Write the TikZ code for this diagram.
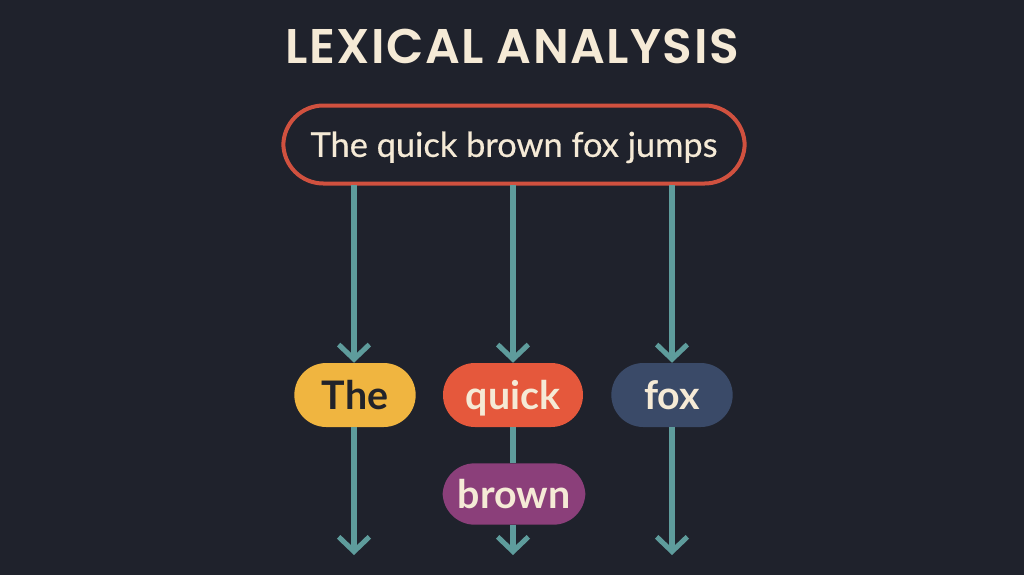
\documentclass[tikz,border=0pt]{standalone}
\usepackage{fontspec}
\setmainfont{Lato}
\newfontfamily\titlefont{Poppins}[UprightFont=* SemiBold, LetterSpace=3]
\usetikzlibrary{arrows.meta}
\definecolor{bg}{HTML}{1F222C}
\definecolor{cream}{HTML}{F5EAD6}
\definecolor{boxred}{HTML}{D0513F}
\definecolor{teal}{HTML}{5E9C9C}
\definecolor{tokyellow}{HTML}{F0B540}
\definecolor{tokorange}{HTML}{E5583C}
\definecolor{toknavy}{HTML}{3A4A68}
\definecolor{tokpurple}{HTML}{8B3F7A}
\definecolor{darktext}{HTML}{22232A}
\tikzset{
  token/.style={rounded corners=24pt, minimum height=48pt, inner sep=0pt, text height=21pt, text depth=0pt, font=\fontsize{29.5}{32}\selectfont\bfseries, text=cream},
  flow/.style={draw=teal, line width=3.8pt, -{Straight Barb[length=11pt, width=23pt, line width=3.8pt]}},
  link/.style={draw=teal, line width=3.8pt},
}
\begin{document}
\begin{tikzpicture}[x=0.75pt, y=-0.75pt]
\fill[bg] (0,0) rectangle (1024,575);
\useasboundingbox (0,0) rectangle (1024,575);
\node[text=cream, text height=25.7pt, text depth=0pt, inner sep=0pt, font=\titlefont\fontsize{36.5}{40}\selectfont] (title) at (512,46.5) {LEXICAL ANALYSIS};
\node[draw=boxred, line width=3pt, rounded corners=30pt, minimum width=346pt, minimum height=58.5pt, text height=18.6pt, text depth=0pt, text=cream, font=\addfontfeatures{FakeBold=0.5}\fontsize{25.8}{32}\selectfont] (sent) at (514,144.5) {The quick brown fox jumps};
\node[token, fill=tokyellow, text=darktext, minimum width=91pt] (the) at (355,395) {The};
\node[token, fill=tokorange, minimum width=105pt] (quick) at (513,395) {quick};
\node[token, fill=toknavy, minimum width=91pt] (fox) at (672,395) {fox};
\node[token, fill=tokpurple, minimum width=107pt, minimum height=46pt] (brown) at (514,494) {brown};
\coordinate (s1) at (354,185);
\coordinate (s2) at (513,185);
\coordinate (s3) at (672,185);
\coordinate (e1) at (354,555);
\coordinate (e2) at (513,555);
\coordinate (e3) at (672,555);
\draw[flow] (s1) -- (the.north -| s1);
\draw[flow] (s2) -- (quick.north -| s2);
\draw[flow] (s3) -- (fox.north -| s3);
\draw[flow] (the.south -| e1) -- (e1);
\draw[link] (quick.south -| s2) -- (brown.north -| s2);
\draw[flow] (brown.south -| e2) -- (e2);
\draw[flow] (fox.south -| e3) -- (e3);
\end{tikzpicture}
\end{document}
